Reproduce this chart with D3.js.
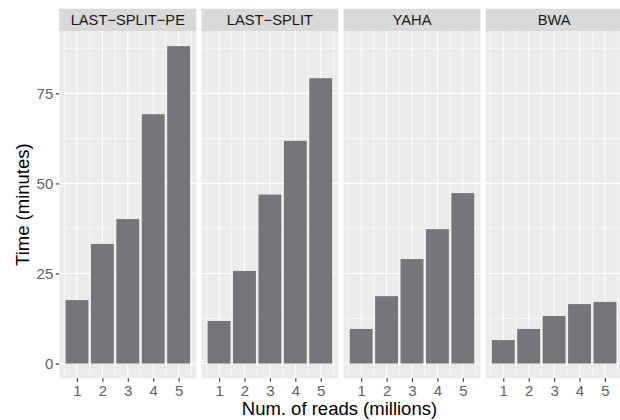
<!DOCTYPE html>
<html>
<head>
<meta charset="utf-8">
<script src="https://cdn.jsdelivr.net/npm/d3@7"></script>
<style>
  html, body { margin: 0; padding: 0; background: #ffffff; }
  svg { display: block; font-family: "Liberation Sans", Arial, Helvetica, sans-serif; }
</style>
</head>
<body>
<svg id="chart" width="620" height="420"></svg>
<script>
// Aligners compared, and read counts in millions
const aligners = ["LAST-SPLIT-PE", "LAST-SPLIT", "YAHA", "BWA"];
const reads = [1, 2, 3, 4, 5];

// Run time in minutes, one array per aligner
const timeLastSplitPE = [17.6, 33.2, 40.1, 69.2, 88.1];
const timeLastSplit   = [11.8, 25.7, 46.9, 61.8, 79.2];
const timeYaha        = [9.6, 18.7, 29.0, 37.3, 47.3];
const timeBwa         = [6.5, 9.6, 13.2, 16.5, 17.1];

const yTicks = [0, 25, 50, 75];
const yMinor = [12.5, 37.5, 62.5, 87.5];
const xMinor = [0.5, 1.5, 2.5, 3.5, 4.5, 5.5];

const series = [timeLastSplitPE, timeLastSplit, timeYaha, timeBwa];
const rows = [];
aligners.forEach((a, i) => reads.forEach((r, j) => rows.push({ aligner: a, reads: r, time: series[i][j] })));

const svg = d3.select("#chart");

const panelTop = 31, panelBottom = 378.3, stripTop = 8.7;
const plotLeft = 59.3, plotRight = 622.6;
const font = "Liberation Sans, Arial, sans-serif";

const facet = d3.scaleBand().domain(aligners).range([plotLeft, plotRight]).paddingInner(0.036);
const pw = facet.bandwidth();

// continuous x with ggplot-style expansion around the bar extents
const barW = 0.9;
const xLo = 1 - barW / 2, xHi = 5 + barW / 2, xPad = (xHi - xLo) * 0.05;
const x = d3.scaleLinear().domain([xLo - xPad, xHi + xPad]).range([0, pw]);
const y = d3.scaleLinear().domain([-4.1, 92.3]).range([panelBottom, panelTop]);

const fmtStrip = s => s.replace(/-/g, "\u2212");

aligners.forEach(a => {
  const g = svg.append("g").attr("transform", `translate(${facet(a)},0)`);

  // panel background
  g.append("rect").attr("x", 0).attr("y", panelTop).attr("width", pw)
    .attr("height", panelBottom - panelTop).attr("fill", "#EBEBEB");

  // minor grid
  g.selectAll(".ymin").data(yMinor).join("line")
    .attr("x1", 0).attr("x2", pw).attr("y1", d => y(d)).attr("y2", d => y(d))
    .attr("stroke", "#fff").attr("stroke-width", 0.55);
  g.selectAll(".xmin").data(xMinor).join("line")
    .attr("y1", panelTop).attr("y2", panelBottom).attr("x1", d => x(d)).attr("x2", d => x(d))
    .attr("stroke", "#fff").attr("stroke-width", 0.55);

  // major grid
  g.selectAll(".ymaj").data(yTicks).join("line")
    .attr("x1", 0).attr("x2", pw).attr("y1", d => y(d)).attr("y2", d => y(d))
    .attr("stroke", "#fff").attr("stroke-width", 1.1);
  g.selectAll(".xmaj").data(reads).join("line")
    .attr("y1", panelTop).attr("y2", panelBottom).attr("x1", d => x(d)).attr("x2", d => x(d))
    .attr("stroke", "#fff").attr("stroke-width", 1.1);

  // bars
  g.selectAll(".bar").data(rows.filter(r => r.aligner === a)).join("rect")
    .attr("x", d => x(d.reads - barW / 2))
    .attr("width", d => x(d.reads + barW / 2) - x(d.reads - barW / 2))
    .attr("y", d => y(d.time))
    .attr("height", d => y(0) - y(d.time))
    .attr("fill", "#75757A");

  // strip
  g.append("rect").attr("x", 0).attr("y", stripTop).attr("width", pw)
    .attr("height", panelTop - stripTop).attr("fill", "#D9D9D9");
  g.append("text").attr("x", pw / 2).attr("y", (stripTop + panelTop) / 2)
    .attr("text-anchor", "middle").attr("dominant-baseline", "central")
    .attr("font-family", font).attr("font-size", 14.7).attr("fill", "#1A1A1A").text(fmtStrip(a));

  // x axis
  const xAxis = d3.axisBottom(x).tickValues(reads).tickSize(3.5).tickPadding(3.5).tickFormat(d3.format("d"));
  const ax = g.append("g").attr("transform", `translate(0,${panelBottom})`).call(xAxis);
  ax.select(".domain").remove();
  ax.selectAll(".tick line").attr("stroke", "#333").attr("stroke-width", 1.1);
  ax.selectAll(".tick text").attr("font-size", 15).attr("fill", "#626262").attr("font-family", font);
});

// y axis on the first panel
const yAxis = d3.axisLeft(y).tickValues(yTicks).tickSize(3.5).tickPadding(2.5).tickFormat(d3.format("d"));
const ay = svg.append("g").attr("transform", `translate(${plotLeft},0)`).call(yAxis);
ay.select(".domain").remove();
ay.selectAll(".tick line").attr("stroke", "#333").attr("stroke-width", 1.1);
ay.selectAll(".tick text").attr("font-size", 15).attr("fill", "#626262").attr("font-family", font);

// axis titles
svg.append("text").attr("x", (plotLeft + plotRight) / 2 - 1.5).attr("y", 408)
  .attr("text-anchor", "middle").attr("dominant-baseline", "central")
  .attr("font-family", font).attr("font-size", 18.5).attr("fill", "#000").text("Num. of reads (millions)");
svg.append("text").attr("transform", `translate(22,${(panelTop + panelBottom) / 2}) rotate(-90)`)
  .attr("text-anchor", "middle").attr("dominant-baseline", "central")
  .attr("font-family", font).attr("font-size", 18.5).attr("fill", "#000").text("Time (minutes)");
</script>
</body>
</html>
